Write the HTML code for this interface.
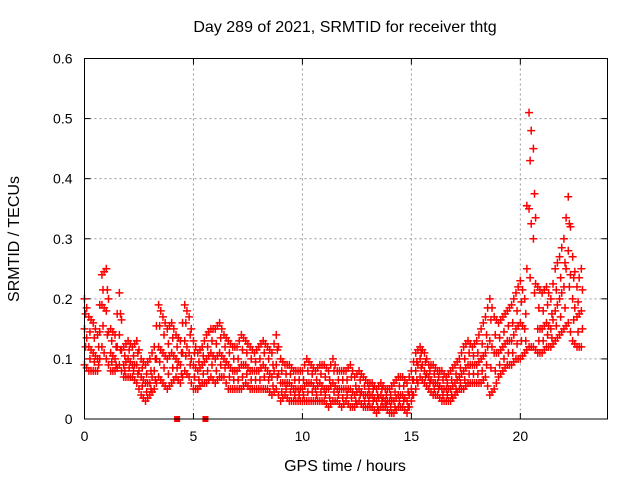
<!DOCTYPE html>
<html><head><meta charset="utf-8"><style>
body{margin:0;background:#fff}
svg{display:block;font-family:"Liberation Sans",sans-serif}
</style></head><body>
<svg id="chart" width="640" height="480">
<text x="345" y="32" text-anchor="middle" font-size="16">Day 289 of 2021, SRMTID for receiver thtg</text>
<text x="345" y="471" text-anchor="middle" font-size="16">GPS time / hours</text>
<text transform="translate(19,239) rotate(-90)" text-anchor="middle" font-size="16">SRMTID / TECUs</text>
<g id="grid"></g><g id="ticks"></g><g id="marks"></g>
<rect x="84.5" y="58.5" width="523" height="360.5" fill="none" stroke="#000" stroke-width="1"/>
</svg>
<script>
const xTicks=[0,5,10,15,20];
const yTicks=[0,0.1,0.2,0.3,0.4,0.5,0.6];
const yTickLabels=["0","0.1","0.2","0.3","0.4","0.5","0.6"];
const step=0.2;
const hiVals=[0.20,0.17,0.16,0.14,0.24,0.25,0.15,0.14,0.21,0.12,0.13,0.12,0.13,0.10,0.09,0.10,0.12,0.19,0.17,0.15,0.16,0.14,0.13,0.19,0.17,0.13,0.11,0.12,0.14,0.15,0.15,0.16,0.14,0.13,0.12,0.12,0.14,0.13,0.12,0.11,0.12,0.13,0.12,0.11,0.14,0.10,0.09,0.09,0.08,0.08,0.08,0.10,0.09,0.08,0.09,0.09,0.08,0.10,0.08,0.08,0.08,0.09,0.07,0.08,0.07,0.06,0.06,0.05,0.06,0.05,0.05,0.06,0.07,0.07,0.06,0.08,0.11,0.12,0.11,0.09,0.09,0.08,0.08,0.07,0.08,0.09,0.10,0.12,0.13,0.12,0.13,0.15,0.17,0.20,0.17,0.16,0.17,0.18,0.19,0.21,0.23,0.20,0.51,0.45,0.22,0.21,0.22,0.20,0.25,0.27,0.30,0.37,0.27,0.22,0.25];
const midVals=[0.15,0.12,0.11,0.10,0.19,0.18,0.11,0.10,0.14,0.09,0.10,0.09,0.09,0.07,0.06,0.06,0.08,0.12,0.11,0.10,0.11,0.10,0.09,0.13,0.11,0.09,0.08,0.09,0.10,0.11,0.10,0.11,0.10,0.09,0.08,0.08,0.09,0.09,0.08,0.08,0.08,0.09,0.08,0.07,0.09,0.06,0.06,0.06,0.05,0.05,0.05,0.06,0.06,0.05,0.06,0.05,0.05,0.06,0.05,0.05,0.05,0.05,0.04,0.05,0.04,0.04,0.04,0.03,0.04,0.03,0.03,0.03,0.04,0.04,0.03,0.05,0.08,0.10,0.08,0.07,0.06,0.06,0.05,0.05,0.05,0.06,0.07,0.08,0.09,0.09,0.09,0.10,0.11,0.13,0.11,0.11,0.12,0.13,0.13,0.15,0.16,0.15,0.35,0.30,0.15,0.15,0.16,0.15,0.18,0.20,0.22,0.28,0.20,0.17,0.18];
const loVals=[0.09,0.08,0.08,0.08,0.12,0.10,0.08,0.08,0.09,0.07,0.07,0.07,0.06,0.04,0.03,0.04,0.05,0.07,0.06,0.05,0.06,0.07,0.06,0.08,0.07,0.05,0.05,0.06,0.06,0.07,0.06,0.07,0.07,0.05,0.05,0.05,0.05,0.06,0.05,0.05,0.05,0.05,0.05,0.04,0.05,0.03,0.04,0.03,0.03,0.03,0.03,0.03,0.03,0.03,0.03,0.03,0.02,0.03,0.03,0.02,0.03,0.02,0.02,0.03,0.02,0.02,0.02,0.01,0.02,0.02,0.01,0.01,0.02,0.02,0.01,0.03,0.05,0.07,0.06,0.05,0.04,0.04,0.03,0.03,0.03,0.04,0.05,0.05,0.06,0.06,0.06,0.06,0.07,0.04,0.05,0.07,0.08,0.09,0.09,0.10,0.10,0.11,0.12,0.12,0.11,0.11,0.12,0.12,0.13,0.14,0.15,0.16,0.13,0.12,0.12];
const zeroTimes=[4.25,5.55];
const X0=84.5,X1=607.5,Y0=419,Y1=58.5;
const xs=v=>X0+v/24*(X1-X0);
const ys=v=>Y0-v/0.6*(Y0-Y1);
const NS="http://www.w3.org/2000/svg";
function mk(tag,attrs,parent){const e=document.createElementNS(NS,tag);for(const k in attrs)e.setAttribute(k,attrs[k]);document.getElementById(parent).appendChild(e);return e;}
xTicks.forEach(t=>{
  const x=xs(t);
  if(t>0){const g=mk('line',{x1:x,x2:x,y1:Y1,y2:Y0,stroke:'#999','stroke-dasharray':'2,3'},'grid');
  
  }
  mk('line',{x1:x,x2:x,y1:Y0,y2:Y0-6,stroke:'#000'},'ticks');
  mk('line',{x1:x,x2:x,y1:Y1,y2:Y1+6,stroke:'#000'},'ticks');
  const l=mk('text',{x:x,y:Y0+22,'text-anchor':'middle','font-size':14},'ticks');l.textContent=t;
  
  
});
yTicks.forEach((t,i)=>{
  const y=ys(t);
  if(i>0&&i<yTicks.length-1){const g=mk('line',{x1:X0,x2:X1,y1:y,y2:y,stroke:'#999','stroke-dasharray':'2,3'},'grid');
  
  }
  mk('line',{x1:X0,x2:X0+6,y1:y,y2:y,stroke:'#000'},'ticks');
  mk('line',{x1:X1,x2:X1-6,y1:y,y2:y,stroke:'#000'},'ticks');
  const l=mk('text',{x:X0-12,y:y+5,'text-anchor':'end','font-size':14},'ticks');l.textContent=yTickLabels[i];
  
  
});
function plus(t,v,color){
  const x=xs(t),y=ys(v);
  const p=mk('path',{d:`M${x-4},${y}h8M${x},${y-4}v8`,stroke:color,'stroke-width':1.5,fill:'none'},'marks');
  
  
}
const series=[hiVals,midVals,loVals];
series.forEach((arr,s)=>arr.forEach((v,i)=>{
  plus(i*step,v,'red');
  if(i+1<arr.length) plus(i*step+step/2,(v+arr[i+1])/2,'red');
  if(s<2){const w=series[s+1][i];plus(i*step+step/4,(v+w)/2,'red');}
}));
zeroTimes.forEach(t=>{
  const r=mk('rect',{x:xs(t)-3,y:Y0-3,width:6,height:6,fill:'red'},'marks');
  
  
});
</script>
</body></html>
